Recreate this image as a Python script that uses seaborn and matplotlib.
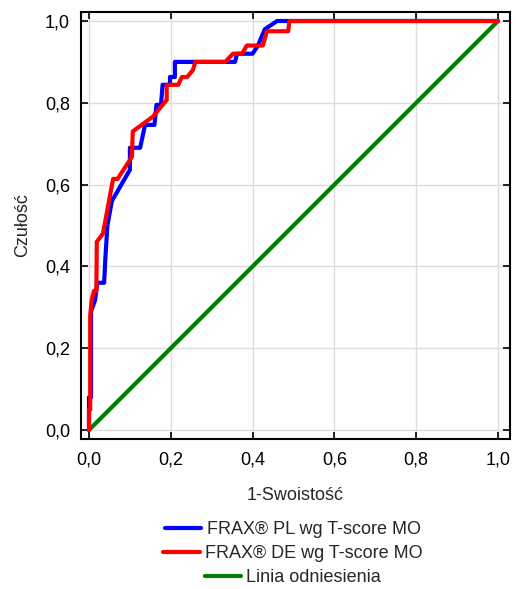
import matplotlib
matplotlib.use("Agg")
import matplotlib.pyplot as plt
import seaborn as sns
import pandas as pd

# ---- data ----
pl_fpr = [0.0, 0.0, 0.005, 0.005, 0.015, 0.02, 0.037, 0.040, 0.045, 0.056, 0.100, 0.100,
          0.125, 0.137, 0.160, 0.165, 0.176, 0.180, 0.198, 0.198, 0.210, 0.210, 0.357,
          0.362, 0.400, 0.413, 0.430, 0.460, 1.0]
pl_tpr = [0.0, 0.08, 0.08, 0.29, 0.318, 0.36, 0.36, 0.42, 0.50, 0.56, 0.636, 0.69,
          0.69, 0.746, 0.746, 0.795, 0.795, 0.844, 0.844, 0.863, 0.863, 0.90, 0.90,
          0.92, 0.92, 0.94, 0.98, 1.0, 1.0]

de_fpr = [0.0, 0.0, 0.003, 0.003, 0.007, 0.012, 0.018, 0.019, 0.034, 0.059, 0.070, 0.105,
          0.107, 0.156, 0.190, 0.190, 0.218, 0.227, 0.240, 0.254, 0.260, 0.333, 0.352,
          0.374, 0.386, 0.425, 0.435, 0.487, 0.490, 1.0]
de_tpr = [0.0, 0.05, 0.05, 0.28, 0.32, 0.34, 0.34, 0.46, 0.48, 0.614, 0.614, 0.668,
          0.73, 0.766, 0.807, 0.844, 0.844, 0.863, 0.863, 0.88, 0.90, 0.90, 0.92,
          0.92, 0.94, 0.94, 0.975, 0.975, 1.0, 1.0]

ref_x = [0.0, 1.0]
ref_y = [0.0, 1.0]

labels = ["FRAX® PL wg T-score MO", "FRAX® DE wg T-score MO", "Linia odniesienia"]
ticks = [0.0, 0.2, 0.4, 0.6, 0.8, 1.0]
tick_labels = ["0,0", "0,2", "0,4", "0,6", "0,8", "1,0"]

# ---- style ----
sns.set_style("white")
plt.rcParams["font.family"] = ["Liberation Sans", "DejaVu Sans"]
plt.rcParams["font.size"] = 13

fig = plt.figure(figsize=(5.16, 5.89), dpi=100)
ax = fig.add_axes([81/516, 1 - 439/589, (510 - 81)/516, (439 - 12)/589])

lw = 3.0
sns.lineplot(x=pl_fpr, y=pl_tpr, sort=False, estimator=None, color="#0000ff",
             linewidth=lw, ax=ax, label=labels[0], legend=False, zorder=3)
sns.lineplot(x=de_fpr, y=de_tpr, sort=False, estimator=None, color="#ff0000",
             linewidth=lw, ax=ax, label=labels[1], legend=False, zorder=4)
sns.lineplot(x=ref_x, y=ref_y, sort=False, estimator=None, color="#008000",
             linewidth=lw, ax=ax, label=labels[2], legend=False, zorder=2)

ax.set_xlim((81 - 89)/409, (510 - 89)/409)
ax.set_ylim((430 - 439)/409, (430 - 12)/409)
ax.set_xticks(ticks)
ax.set_xticklabels(tick_labels)
ax.set_yticks(ticks)
ax.set_yticklabels(tick_labels)
ax.grid(True, color="#dcdcdc", linewidth=1.0, zorder=0)
ax.set_axisbelow(True)
ax.tick_params(direction="in", length=5, width=1.2, top=True, right=True,
               bottom=True, left=True, labelsize=13, colors="black")
ax.tick_params(axis="x", pad=9)
ax.tick_params(axis="y", pad=8)
for s in ax.spines.values():
    s.set_color("black")
    s.set_linewidth(1.5)

ax.set_xlabel("1-Swoistość", fontsize=13, labelpad=13)
ax.set_ylabel("Czułość", fontsize=13, labelpad=10)

lines = ax.get_lines()
ys = [1 - 530/589, 1 - 554/589, 1 - 578/589]
for ln, lab, yy in zip(lines[:3], labels, ys):
    leg = fig.legend([ln], [lab], loc="center", bbox_to_anchor=(293/516, yy),
                     frameon=False, fontsize=13, handlelength=2.0,
                     handletextpad=0.3, borderpad=0.0)

fig.savefig("out.png", dpi=100)
